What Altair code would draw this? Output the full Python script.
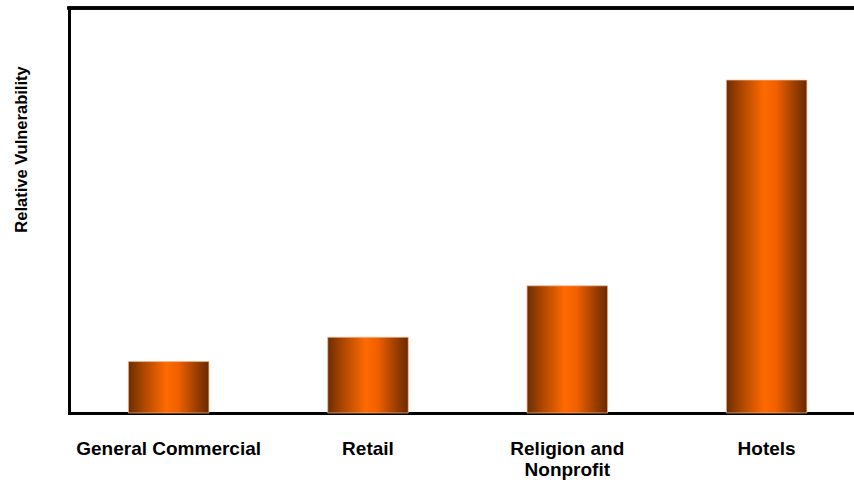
import altair as alt
import pandas as pd

# Relative vulnerability by sector
categories = ["General Commercial", "Retail", "Religion and Nonprofit", "Hotels"]
vulnerability = [1.27, 1.87, 3.14, 8.22]

df = pd.DataFrame({"sector": categories, "value": vulnerability})

PLOT_W = 785
PLOT_H = 405

bar_fill = {
    "gradient": "linear",
    "x1": 0, "x2": 1, "y1": 0, "y2": 0,
    "stops": [
        {"offset": 0.0, "color": "#6e2d00"},
        {"offset": 0.2, "color": "#b04800"},
        {"offset": 0.47, "color": "#ff6a00"},
        {"offset": 0.62, "color": "#f06000"},
        {"offset": 0.85, "color": "#9a3e00"},
        {"offset": 1.0, "color": "#6a2a00"},
    ],
}

label_font = "Liberation Sans"

bars = alt.Chart(df).mark_bar(
    fill=bar_fill,
    stroke="#f2b890",
    strokeWidth=1,
    strokeOpacity=0.7,
).encode(
    x=alt.X(
        "sector:N",
        sort=categories,
        scale=alt.Scale(range=[0, 797.3], paddingInner=0.596, paddingOuter=0.298),
        axis=alt.Axis(
            title=None,
            ticks=False,
            tickSize=0,
            labelPadding=26,
            labelAngle=0,
            labelLimit=400,
            labelFont=label_font,
            labelFontSize=19,
            labelFontWeight="bold",
            labelColor="#000000",
            labelBaseline="top",
            labelLineHeight=21.5,
            labelExpr="datum.label == 'Religion and Nonprofit' ? ['Religion and', 'Nonprofit'] : datum.label",
            domainColor="#000000",
            domainWidth=3,
            domainCap="square",
            grid=False,
        ),
    ),
    y=alt.Y(
        "value:Q",
        scale=alt.Scale(domain=[0, 10], nice=False),
        axis=alt.Axis(
            title="Relative Vulnerability",
            labels=False,
            ticks=False,
            grid=False,
            domainColor="#000000",
            domainWidth=3,
            domainCap="square",
            titleFont=label_font,
            titleFontSize=16.5,
            titleFontWeight="bold",
            titleColor="#000000",
            titleAngle=270,
            titleAlign="center",
            titleBaseline="alphabetic",
            titleX=-42.5,
            titleY=141,
        ),
    ),
)

# Top border of the plot frame
top_line = alt.Chart(df).mark_rule(color="#000000", strokeWidth=3, strokeCap="square").encode(
    x=alt.value(0), x2=alt.value(800), y=alt.value(0)
)

chart = alt.layer(bars, top_line).properties(
    width=PLOT_W,
    height=PLOT_H,
    autosize=alt.AutoSizeParams(type="none"),
    padding={"left": 69, "top": 8, "right": 0, "bottom": 67},
    background="#ffffff",
).configure_view(stroke=None)

chart.save("out.html", embed_options={"renderer": "svg", "actions": False})
